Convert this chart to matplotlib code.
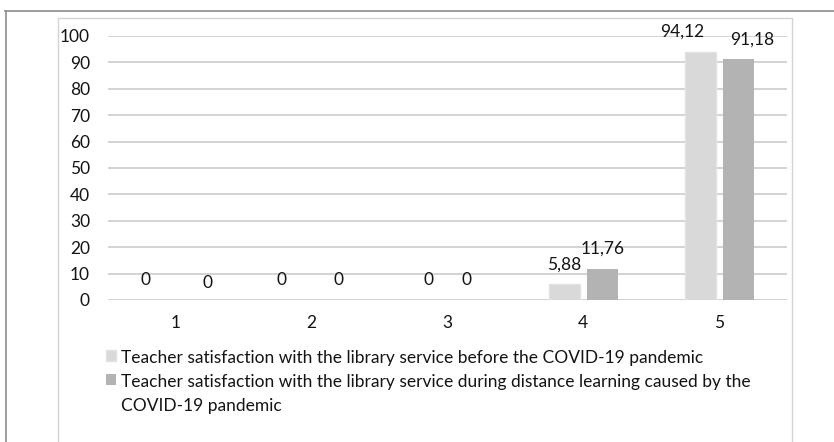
import numpy as np
import matplotlib.pyplot as plt
from matplotlib.patches import Rectangle
from matplotlib.lines import Line2D

# Dades del gràfic
categories = ['1', '2', '3', '4', '5']
before = [0, 0, 0, 5.88, 94.12]
during = [0, 0, 0, 11.76, 91.18]
serie_labels = [
    'Teacher satisfaction with the library service before the COVID-19 pandemic',
    'Teacher satisfaction with the library service during distance learning caused by the\nCOVID-19 pandemic',
]
y_ticks = [0, 10, 20, 30, 40, 50, 60, 70, 80, 90, 100]

plt.rcParams['font.family'] = ['Lato', 'DejaVu Sans']
plt.rcParams['font.size'] = 12.5
text_color = '#141414'

fig = plt.figure(figsize=(8.34, 4.42), dpi=100)
W, H = 834, 442

# marcs de fons (estil Excel)
fig.add_artist(Line2D([5 / W, 1], [1 - 11 / H, 1 - 11 / H], color='#8c8c8c', lw=1.2))
fig.add_artist(Line2D([6 / W, 6 / W], [0, 1 - 11 / H], color='#8c8c8c', lw=1.2))
fig.add_artist(Rectangle((58 / W, -0.1), (792 - 58) / W, 1.1 - 18 / H,
                         fill=False, edgecolor='#d4d4d4', lw=1))

ax = fig.add_axes([108 / W, 142 / H, (787 - 108) / W, 264 / H])

x = np.arange(len(categories))
w = 0.228
off = 0.14
ax.bar(x - off, before, w, color='#d9d9d9', edgecolor='#e3e3e3', lw=1,
       label=serie_labels[0], zorder=3)
ax.bar(x + off, during, w, color='#b3b3b3', label=serie_labels[1], zorder=3)

# desplaçaments de les etiquetes (px), com fa Excel per evitar solapaments
dx1 = [-11, -11, 0, 0, -18]
dx2 = [13, 8, 0, 0, 14]
dy2 = [-3, 0, 0, 0, 0]

def fmt(v):
    return f'{v:g}'.replace('.', ',')

for i in range(len(categories)):
    ax.annotate(fmt(before[i]), (x[i] - off, before[i]), xytext=(dx1[i], 20),
                textcoords='offset pixels', ha='center', va='center',
                color=text_color, annotation_clip=False)
    ax.annotate(fmt(during[i]), (x[i] + off, during[i]), xytext=(dx2[i], 20 + dy2[i]),
                textcoords='offset pixels', ha='center', va='center',
                color=text_color, annotation_clip=False)

ax.set_xlim(-0.5, len(categories) - 0.5)
ax.set_ylim(0, 100)
ax.set_yticks(y_ticks)
ax.set_xticks(x)
ax.set_xticklabels(categories)
ax.tick_params(axis='both', length=0, colors=text_color)
ax.tick_params(axis='y', pad=13)
ax.tick_params(axis='x', pad=11)
ax.grid(axis='y', color='#d0d0d0', lw=1.3, zorder=0)
for s in ax.spines.values():
    s.set_visible(False)

leg = ax.legend(loc='upper left', bbox_to_anchor=(106 / W, 1 - 350 / H),
                bbox_transform=fig.transFigure, frameon=False,
                borderpad=0, borderaxespad=0, handlelength=0.58, handleheight=0.58,
                handletextpad=0.3, labelspacing=0.45)
for t in leg.get_texts():
    t.set_color(text_color)
    t.set_linespacing(1.6)
# quadre de la llegenda alineat amb la primera línia del text
for col in leg._legend_handle_box.get_children():
    for item in col.get_children():
        item.align = 'top'

fig.savefig('out.png', dpi=100)
